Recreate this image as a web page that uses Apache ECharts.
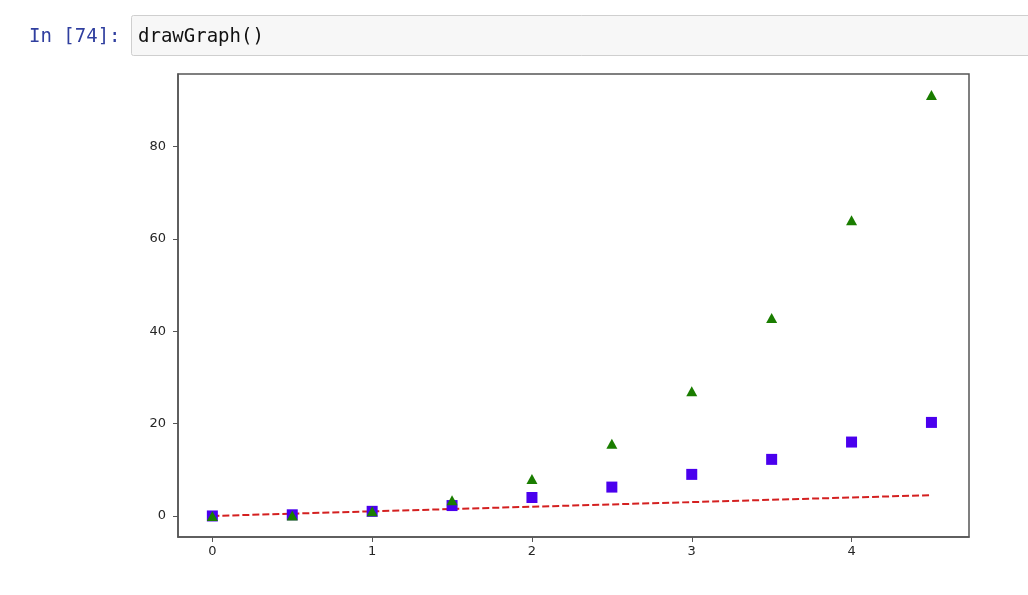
<!DOCTYPE html>
<html>
<head>
<meta charset="utf-8">
<script src="https://cdn.jsdelivr.net/npm/echarts@6/dist/echarts.min.js"></script>
<style>
html,body{margin:0;padding:0;background:#fff;}
#c{width:1028px;height:595px;}
</style>
</head>
<body>
<div id="c"></div>
<script>
// Data
const tValues = [0, 0.5, 1, 1.5, 2, 2.5, 3, 3.5, 4, 4.5];
const lineValues = [0, 0.5, 1, 1.5, 2, 2.5, 3, 3.5, 4, 4.5];
const squareValues = [0, 0.25, 1, 2.25, 4, 6.25, 9, 12.25, 16, 20.25];
const triangleValues = [0, 0.125, 1, 3.375, 8, 15.625, 27, 42.875, 64, 91.125];
const xTicks = [0, 1, 2, 3, 4];
const yTicks = [0, 20, 40, 60, 80];
const promptText = 'In [74]:';
const codeText = 'drawGraph()';

function pairs(ys) { return tValues.map((t, i) => [t, ys[i]]); }

const chart = echarts.init(document.getElementById('c'), null, {renderer: 'canvas'});
const labelStyle = {color: '#262626', fontSize: 13, fontFamily: 'DejaVu Sans'};
chart.setOption({
  animation: false,
  backgroundColor: '#fff',
  grid: {left: 178, top: 74, right: 59, bottom: 58, show: true, borderColor: '#555', borderWidth: 1.5, backgroundColor: 'transparent'},
  xAxis: {
    type: 'value', min: -0.215, max: 4.735,
    axisLine: {show: true, onZero: false, lineStyle: {color: '#555', width: 1.5}},
    axisTick: {show: true, length: 5, lineStyle: {color: '#555'}, customValues: xTicks},
    axisLabel: Object.assign({margin: 8, customValues: xTicks}, labelStyle),
    splitLine: {show: false}
  },
  yAxis: {
    type: 'value', min: -4.556, max: 95.68,
    axisLine: {show: true, onZero: false, lineStyle: {color: '#555', width: 1.5}},
    axisTick: {show: true, length: 5, lineStyle: {color: '#555'}, customValues: yTicks},
    axisLabel: Object.assign({margin: 12, customValues: yTicks}, labelStyle),
    splitLine: {show: false}
  },
  graphic: [
    {type: 'rect', shape: {x: 131.5, y: 15.5, width: 920, height: 40, r: 2},
     style: {fill: '#f7f7f7', stroke: '#cfcfcf', lineWidth: 1}},
    {type: 'text', x: 29, y: 37, style: {text: promptText, fill: '#303F9F', font: '19px "DejaVu Sans Mono", "Liberation Mono", monospace', verticalAlign: 'middle'}},
    {type: 'text', x: 138, y: 37, style: {text: codeText, fill: '#111', font: '19px "DejaVu Sans Mono", "Liberation Mono", monospace', verticalAlign: 'middle'}}
  ],
  series: [
    {type: 'line', data: pairs(lineValues), symbol: 'none', z: 2,
     lineStyle: {color: '#d42020', width: 2, type: [7, 3]}},
    {type: 'scatter', data: pairs(squareValues), symbol: 'rect', symbolSize: 11, z: 3,
     itemStyle: {color: '#4a00ee', opacity: 1}},
    {type: 'scatter', data: pairs(triangleValues), symbol: 'triangle', symbolSize: [11, 10], z: 4,
     itemStyle: {color: '#1a7d00', opacity: 1}}
  ]
});
</script>
</body>
</html>
